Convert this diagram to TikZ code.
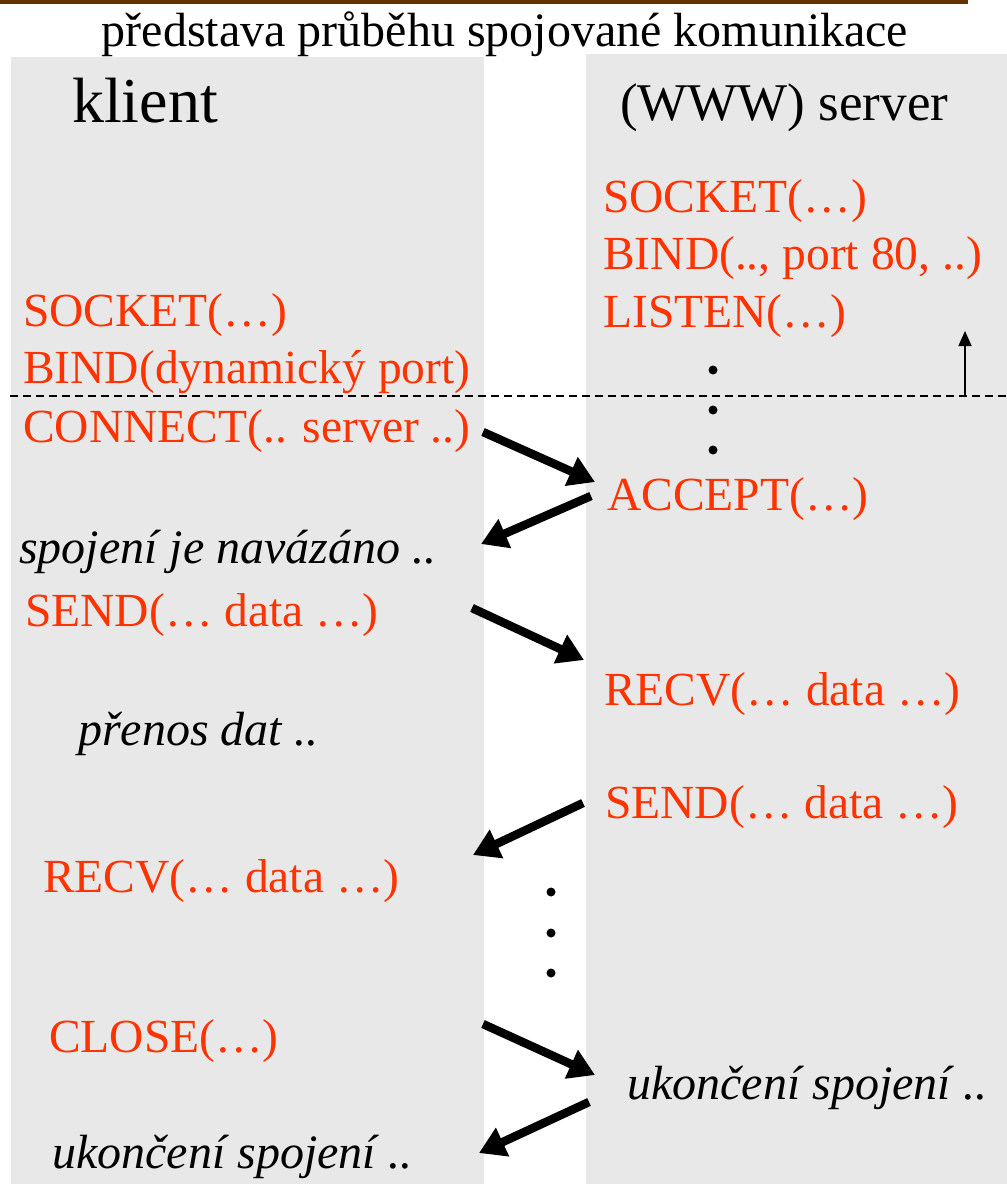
\documentclass[tikz,border=0pt]{standalone}
\usepackage{fontspec}
\setmainfont{Liberation Serif}
\usepackage{tikz}
\usetikzlibrary{arrows.meta, positioning}
\definecolor{callred}{HTML}{FF3300}
\definecolor{panelgray}{HTML}{E8E8E8}
\definecolor{toprule}{HTML}{663300}
\tikzset{
  call/.style={text=callred, font=\fontsize{47.5}{56}\selectfont, anchor=base west, inner sep=0pt},
  note/.style={font=\itshape\fontsize{48}{56}\selectfont, anchor=base west, inner sep=0pt},
  side/.style={anchor=base west, inner sep=0pt},
  msg/.style={line width=8.5pt, -{Triangle[length=26pt, width=30pt]}},
  waitdot/.style={fill=black},
}
\begin{document}
\begin{tikzpicture}[x=1pt, y=-1pt]
\useasboundingbox (0,0) rectangle (1007,1184);
% background
\fill[toprule] (0,0) rectangle (968,4);
\fill[panelgray] (11,57) rectangle (484,1184);
\fill[panelgray] (586,54) rectangle (1007,1184);
\node[anchor=base, inner sep=0pt, font=\fontsize{48}{56}\selectfont] (title) at (505,46)
  {představa průběhu spojované komunikace};
\node[side, font=\fontsize{64}{70}\selectfont] (klient) at (72,122) {klient};
\node[side, font=\fontsize{53}{60}\selectfont] (server) at (620,120) {(WWW) server};
% server side setup
\node[call] (ssock) at (603,212) {SOCKET(…)};
\node[call] (sbind) at (603,269) {BIND(.., port 80, ..)};
\node[call] (slist) at (603,327) {LISTEN(…)};
% client side setup
\node[call] (csock) at (23,326) {SOCKET(…)};
\node[call] (cbind) at (23,383) {BIND(dynamický port)};
\node[call] (cconn) at (23,442) {CONNECT(.. server ..)};
\draw[line width=1.3pt, dash pattern=on 8pt off 5pt] (10,396) -- (1007,396);
\coordinate (upfoot) at (965,396);
\coordinate (uphead) at (965,331);
\draw[line width=1.6pt, -{Triangle[length=15pt, width=13pt]}] (upfoot) -- (uphead);
\foreach \y in {370,410,450} \fill[waitdot] (713,\y) circle (4.5);
\node[call] (sacc) at (607,510) {ACCEPT(…)};
\node[note] (cest) at (19,563) {spojení je navázáno ..};
% data transfer
\node[call] (csend) at (25,626) {SEND(… data …)};
\node[call] (srecv) at (604,705) {RECV(… data …)};
\node[note] (trans) at (78,745) {přenos dat ..};
\node[call] (ssend) at (605,818) {SEND(… data …)};
\node[call] (crecv) at (43,892) {RECV(… data …)};
\foreach \y in {892,933,973} \fill[waitdot] (551,\y) circle (4.5);
% teardown
\node[call] (cclose) at (49,1052) {CLOSE(…)};
\node[note] (send) at (627,1099) {ukončení spojení ..};
\node[note] (cend) at (52,1168) {ukončení spojení ..};
% message arrows
\coordinate (m1a) at (483,432);  \coordinate (m1b) at (595,482);
\coordinate (m2a) at (591,496);  \coordinate (m2b) at (481,544);
\coordinate (m3a) at (472,608);  \coordinate (m3b) at (584,660);
\coordinate (m4a) at (583,803);  \coordinate (m4b) at (473,855);
\coordinate (m5a) at (483,1024); \coordinate (m5b) at (595,1075);
\coordinate (m6a) at (589,1102); \coordinate (m6b) at (479,1153);
\draw[msg] (m1a) -- (m1b);
\draw[msg] (m2a) -- (m2b);
\draw[msg] (m3a) -- (m3b);
\draw[msg] (m4a) -- (m4b);
\draw[msg] (m5a) -- (m5b);
\draw[msg] (m6a) -- (m6b);
\end{tikzpicture}
\end{document}
